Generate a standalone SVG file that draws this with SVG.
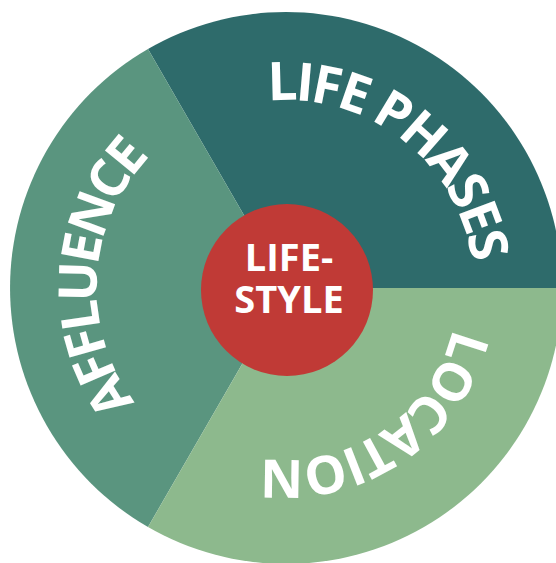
<svg xmlns="http://www.w3.org/2000/svg" xmlns:xlink="http://www.w3.org/1999/xlink" width="556" height="563" viewBox="0 0 556 563">
<style>
.lbl{font-family:"Open Sans","Liberation Sans",sans-serif;font-weight:700;fill:#ffffff;}
.ring{font-size:53px;letter-spacing:-3px;}
.tight{letter-spacing:-4px;}
.core{font-size:38px;}
</style>
<defs>
<path id="arcPhases" d="M148.5,159.8 A188,188 0 0 1 443.7,390.4"/>
<path id="arcAffluence" d="M259.7,475.2 A189,189 0 0 1 279.4,99.1"/>
<path id="arcLocation" d="M435.7,203.3 A172,172 0 0 1 153.3,397.4"/>
</defs>
<rect width="556" height="563" fill="#ffffff"/>
<g id="sectors">
<g id="life-phases">
<path d="M286,288 L562,288 A276,276 0 0 0 148,49 Z" fill="#2e6b6b"/>
<text class="lbl ring"><textPath xlink:href="#arcPhases" href="#arcPhases" startOffset="50%" text-anchor="middle">LIFE PHASES</textPath></text>
</g>
<g id="affluence">
<path d="M286,288 L148,49 A276,276 0 0 0 148,527 Z" fill="#5a957f"/>
<text class="lbl ring tight"><textPath xlink:href="#arcAffluence" href="#arcAffluence" startOffset="50%" text-anchor="middle">AFFLUENCE</textPath></text>
</g>
<g id="location">
<path d="M286,288 L148,527 A276,276 0 0 0 562,288 Z" fill="#8db98d"/>
<text class="lbl ring"><textPath xlink:href="#arcLocation" href="#arcLocation" startOffset="50%" text-anchor="middle">LOCATION</textPath></text>
</g>
</g>
<g id="lifestyle">
<circle cx="287" cy="290" r="86" fill="#c03a36"/>
<text class="lbl core" text-anchor="middle"><tspan x="289" y="271">LIFE-</tspan><tspan x="289" y="313">STYLE</tspan></text>
</g>
</svg>
